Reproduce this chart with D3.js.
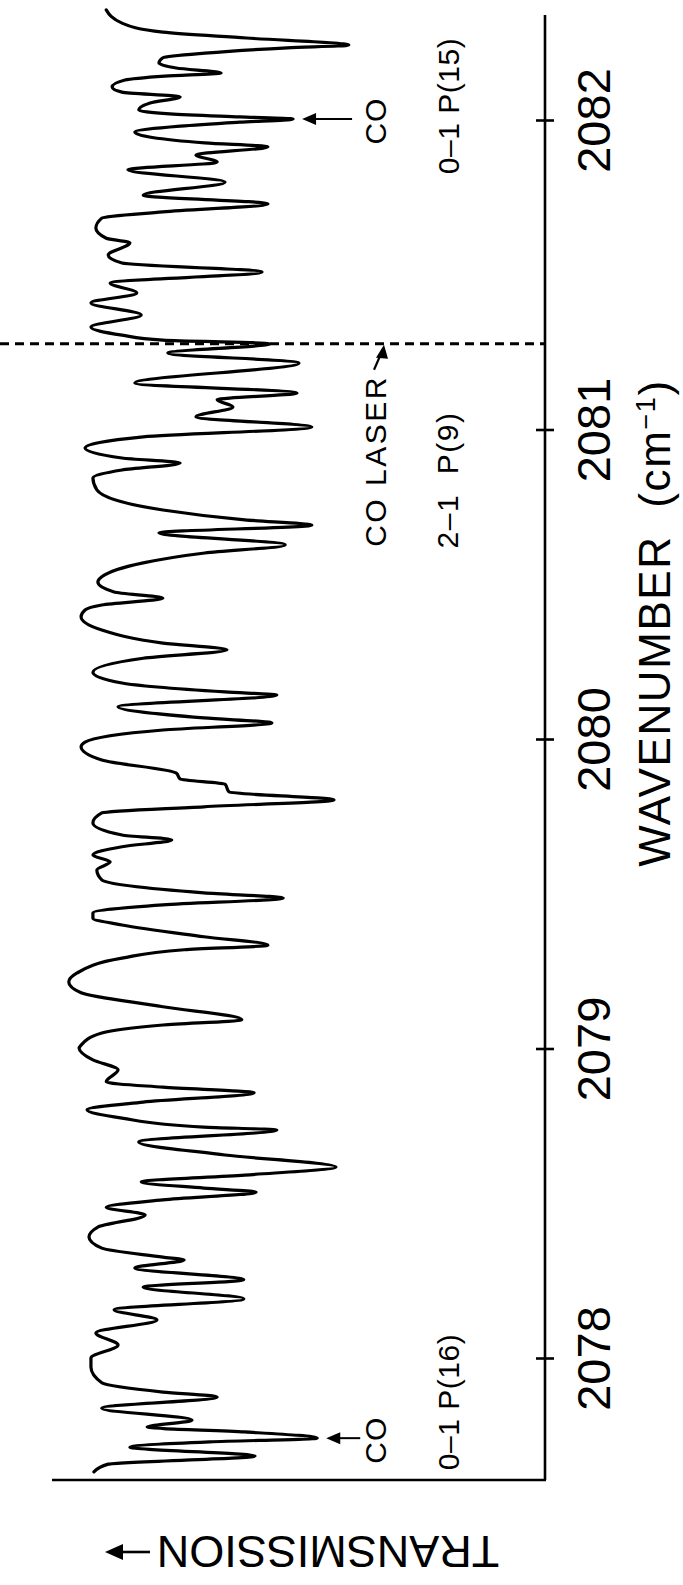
<!DOCTYPE html>
<html>
<head>
<meta charset="utf-8">
<script src="https://cdn.jsdelivr.net/npm/d3@7"></script>
<style>
  html, body { margin: 0; padding: 0; background: #fff; }
  svg { display: block; }
  text { font-family: "Liberation Sans", Arial, sans-serif; fill: #000; }
</style>
</head>
<body>
<svg id="chart" width="683" height="1585"></svg>
<script>
// Absorption spectrum: wavenumber (cm^-1) and relative transmission
const wavenumber = [
  2082.356, 2082.313, 2082.284, 2082.265, 2082.242, 2082.233, 2082.216, 2082.201, 2082.184, 2082.168,
  2082.152, 2082.142, 2082.129, 2082.107, 2082.090, 2082.075, 2082.055, 2082.032, 2082.020, 2082.010,
  2082.003, 2081.993, 2081.980, 2081.961, 2081.926, 2081.913, 2081.887, 2081.864, 2081.839, 2081.799,
  2081.757, 2081.729, 2081.703, 2081.683, 2081.651, 2081.618, 2081.603, 2081.564, 2081.538, 2081.509,
  2081.473, 2081.441, 2081.409, 2081.370, 2081.331, 2081.305, 2081.289, 2081.277, 2081.247, 2081.215,
  2081.150, 2081.118, 2081.096, 2081.073, 2081.041, 2081.008, 2080.976, 2080.940, 2080.908, 2080.892,
  2080.869, 2080.843, 2080.805, 2080.740, 2080.708, 2080.691, 2080.666, 2080.627, 2080.601, 2080.569,
  2080.524, 2080.507, 2080.475, 2080.455, 2080.433, 2080.417, 2080.395, 2080.352, 2080.310, 2080.288,
  2080.261, 2080.216, 2080.181, 2080.152, 2080.142, 2080.104, 2080.068, 2080.052, 2080.029, 2079.990,
  2079.975, 2079.932, 2079.890, 2079.871, 2079.854, 2079.829, 2079.803, 2079.781, 2079.761, 2079.729,
  2079.690, 2079.674, 2079.652, 2079.625, 2079.603, 2079.577, 2079.545, 2079.503, 2079.486, 2079.464,
  2079.438, 2079.421, 2079.399, 2079.361, 2079.334, 2079.319, 2079.292, 2079.244, 2079.215, 2079.180,
  2079.135, 2079.093, 2079.076, 2079.050, 2079.011, 2079.001, 2078.963, 2078.931, 2078.892, 2078.875,
  2078.857, 2078.827, 2078.802, 2078.775, 2078.746, 2078.737, 2078.698, 2078.656, 2078.617, 2078.591,
  2078.569, 2078.549, 2078.536, 2078.511, 2078.487, 2078.462, 2078.423, 2078.391, 2078.355, 2078.326,
  2078.317, 2078.291, 2078.253, 2078.229, 2078.191, 2078.156, 2078.123, 2078.081, 2078.042, 2078.000,
  2077.971, 2077.920, 2077.890, 2077.874, 2077.838, 2077.799, 2077.777, 2077.761, 2077.741, 2077.729,
  2077.712, 2077.683, 2077.657, 2077.632
];
const transmission = [
  0.890, 0.858, 0.775, 0.606, 0.398, 0.523, 0.690, 0.775, 0.783, 0.748,
  0.657, 0.771, 0.852, 0.878, 0.858, 0.740, 0.801, 0.824, 0.761, 0.619,
  0.511, 0.619, 0.740, 0.832, 0.690, 0.562, 0.708, 0.665, 0.846, 0.649,
  0.815, 0.562, 0.775, 0.899, 0.911, 0.890, 0.842, 0.886, 0.858, 0.574,
  0.882, 0.828, 0.921, 0.819, 0.921, 0.858, 0.775, 0.558, 0.765, 0.499,
  0.832, 0.503, 0.665, 0.633, 0.708, 0.473, 0.815, 0.933, 0.858, 0.740,
  0.858, 0.917, 0.909, 0.775, 0.609, 0.473, 0.783, 0.527, 0.690, 0.815,
  0.899, 0.907, 0.874, 0.775, 0.899, 0.933, 0.941, 0.899, 0.775, 0.645,
  0.815, 0.917, 0.858, 0.649, 0.544, 0.866, 0.692, 0.554, 0.775, 0.933,
  0.941, 0.899, 0.748, 0.740, 0.649, 0.641, 0.428, 0.692, 0.899, 0.917,
  0.858, 0.757, 0.858, 0.917, 0.882, 0.909, 0.899, 0.692, 0.531, 0.775,
  0.917, 0.917, 0.858, 0.692, 0.562, 0.732, 0.858, 0.949, 0.966, 0.941,
  0.775, 0.615, 0.775, 0.899, 0.941, 0.945, 0.917, 0.866, 0.890, 0.775,
  0.590, 0.815, 0.929, 0.858, 0.692, 0.544, 0.824, 0.649, 0.424, 0.609,
  0.819, 0.692, 0.586, 0.775, 0.890, 0.811, 0.907, 0.925, 0.899, 0.775,
  0.732, 0.832, 0.611, 0.815, 0.611, 0.874, 0.787, 0.911, 0.866, 0.921,
  0.921, 0.899, 0.775, 0.665, 0.899, 0.716, 0.807, 0.609, 0.462, 0.680,
  0.842, 0.588, 0.886, 0.915
];

const tickValues = [2078, 2079, 2080, 2081, 2082];
const laserWavenumber = 2081.277;               // CO laser 2-1 P(9)
const coLineWavenumbers = [2082.003, 2077.741]; // CO 0-1 P(15), 0-1 P(16)
const coLineLabels = ["0\u20131 P(15)", "0\u20131 P(16)"];

const svg = d3.select("#chart");

// Wavenumber runs up the page, transmission increases to the left
const y = d3.scaleLinear().domain([2078, 2082]).range([1358, 120]);
const x = d3.scaleLinear().domain([0, 1]).range([545, 52]);

const axisX = x(0);
const axisTop = 15;
const axisBottom = 1480;

// Frame lines
svg.append("line")
  .attr("x1", axisX).attr("x2", axisX)
  .attr("y1", axisTop).attr("y2", axisBottom)
  .attr("stroke", "#000").attr("stroke-width", 2.6);
svg.append("line")
  .attr("x1", x(1)).attr("x2", axisX + 1)
  .attr("y1", axisBottom).attr("y2", axisBottom)
  .attr("stroke", "#000").attr("stroke-width", 2.6);

// Wavenumber axis ticks and labels
const gAxis = svg.append("g")
  .attr("transform", `translate(${axisX},0)`)
  .call(d3.axisRight(y).tickValues(tickValues).tickSize(9).tickFormat(d3.format("d")));
gAxis.attr("font-family", null).attr("font-size", null);
gAxis.select(".domain").remove();
gAxis.selectAll(".tick line")
  .attr("x1", -9).attr("x2", 9)
  .attr("stroke", "#000").attr("stroke-width", 2.6);
gAxis.selectAll(".tick text")
  .attr("x", null)
  .attr("transform", "translate(48,0) rotate(-90)")
  .attr("text-anchor", "middle")
  .attr("dy", "0.36em")
  .style("font-size", "47px");

// Rotated text helper
function vText(cx, cy, str, size, rot = -90, spacing = 0) {
  return svg.append("text")
    .attr("transform", `translate(${cx},${cy}) rotate(${rot})`)
    .attr("text-anchor", "middle")
    .attr("dy", "0.36em")
    .style("font-size", size + "px")
    .style("letter-spacing", spacing + "px")
    .style("white-space", "pre")
    .text(str);
}

// Axis titles
const title = svg.append("text")
  .attr("transform", "translate(654,623) rotate(-90)")
  .attr("text-anchor", "middle")
  .attr("dy", "0.36em")
  .style("font-size", "44px")
  .style("letter-spacing", "1.6px")
  .style("white-space", "pre");
title.append("tspan").text("WAVENUMBER  (cm");
title.append("tspan").attr("baseline-shift", "super").style("font-size", "27px").text("\u22121");
title.append("tspan").text(")");

vText(328, 1552, "TRANSMISSION", 45, 180);
// arrow next to the transmission label
svg.append("line")
  .attr("x1", 150).attr("x2", 118).attr("y1", 1552).attr("y2", 1552)
  .attr("stroke", "#000").attr("stroke-width", 2.6);
svg.append("path")
  .attr("d", "M105,1552 L123,1544 L123,1560 Z")
  .attr("fill", "#000");

// Laser line
svg.append("line")
  .attr("x1", 0).attr("x2", axisX)
  .attr("y1", y(laserWavenumber)).attr("y2", y(laserWavenumber))
  .attr("stroke", "#000").attr("stroke-width", 3)
  .attr("stroke-dasharray", "9,6");

// Spectrum trace
const points = wavenumber.map((w, i) => ({ w, t: transmission[i] }));
const line = d3.line()
  .x(d => x(d.t))
  .y(d => y(d.w))
  .curve(d3.curveMonotoneY);
svg.append("path")
  .datum(points)
  .attr("d", line)
  .attr("fill", "none")
  .attr("stroke", "#000")
  .attr("stroke-width", 3.2)
  .attr("stroke-linejoin", "round")
  .attr("stroke-linecap", "round");

// CO absorption line markers
const arrowLen = [50, 34];
coLineWavenumbers.forEach((w, i) => {
  const yy = y(w);
  const dipT = transmission[wavenumber.indexOf(w)];
  const tip = x(dipT) + 9;
  svg.append("line")
    .attr("x1", tip + 10).attr("x2", tip + arrowLen[i])
    .attr("y1", yy).attr("y2", yy)
    .attr("stroke", "#000").attr("stroke-width", 2);
  svg.append("path")
    .attr("d", `M${tip},${yy} L${tip + 14},${yy - 6} L${tip + 14},${yy + 6} Z`)
    .attr("fill", "#000");
  vText(375, yy + 2, "CO", 30, -90, 1);
});
vText(448, 106, coLineLabels[0], 30, -90, 0.5);
vText(448, 1402, coLineLabels[1], 30, -90, 0.5);

// CO laser annotation
const ly = y(laserWavenumber);
svg.append("line")
  .attr("x1", 374).attr("x2", 381)
  .attr("y1", ly + 26).attr("y2", ly + 10)
  .attr("stroke", "#000").attr("stroke-width", 2.2);
svg.append("path")
  .attr("d", `M${384},${ly + 1} L${376},${ly + 14} L${388},${ly + 15} Z`)
  .attr("fill", "#000");
vText(375, 461, "CO LASER", 30, -90, 2.5);
vText(447, 480, "2\u20131  P(9)", 30, -90, 1.5);
</script>
</body>
</html>
